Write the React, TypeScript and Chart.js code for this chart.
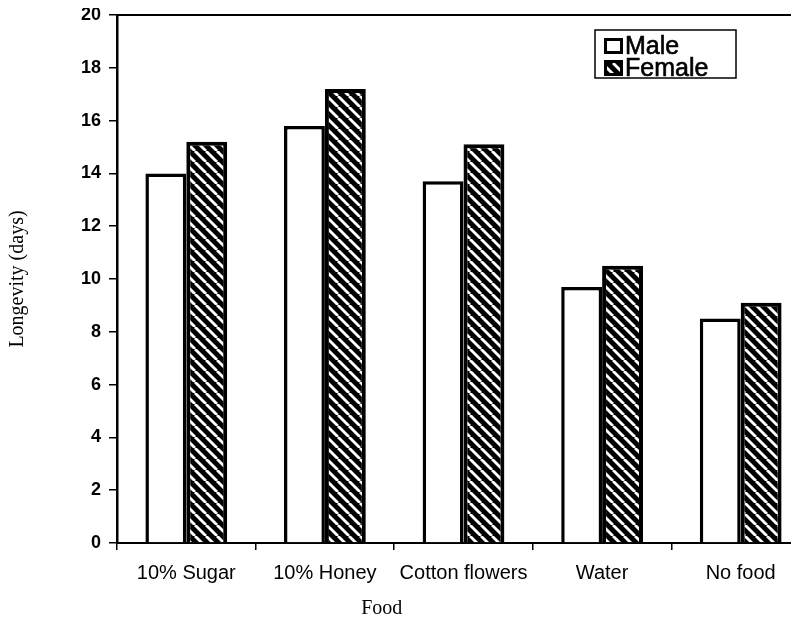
import React, { useEffect, useRef } from "react";
import { Chart, registerables } from "chart.js";

Chart.register(...registerables);

const categories = ["10% Sugar", "10% Honey", "Cotton flowers", "Water", "No food"];
const maleValues = [14.0, 15.8, 13.7, 9.7, 8.5];
const femaleValues = [15.2, 17.2, 15.1, 10.5, 9.1];
const seriesLabels = ["Male", "Female"];
const yTitle = "Longevity (days)";
const xTitle = "Food";

function makeHatch(): CanvasPattern | string {
  const n = 11;
  const c = document.createElement("canvas");
  c.width = n;
  c.height = n;
  const g = c.getContext("2d");
  if (!g) return "#000";
  g.fillStyle = "#000";
  g.fillRect(0, 0, n, n);
  g.strokeStyle = "#fff";
  g.lineWidth = 2.8;
  for (const off of [-n, 0, n]) {
    g.beginPath();
    g.moveTo(off, 0);
    g.lineTo(off + n, n);
    g.stroke();
  }
  const p = g.createPattern(c, "repeat");
  return p || "#000";
}

export default function App() {
  const ref = useRef<HTMLCanvasElement | null>(null);

  useEffect(() => {
    if (!ref.current) return;
    const hatch = makeHatch();

    const frame = {
      id: "frameAndExtras",
      afterDraw(chart: any) {
        const { ctx, chartArea } = chart;
        ctx.save();
        // top border
        ctx.strokeStyle = "#000";
        ctx.lineWidth = 2;
        ctx.beginPath();
        ctx.moveTo(chartArea.left, chartArea.top);
        ctx.lineTo(chartArea.right, chartArea.top);
        ctx.stroke();

        // x-axis title
        const xs = chart.scales.x;
        ctx.fillStyle = "#000";
        ctx.font = "20px 'Liberation Serif', 'Times New Roman', serif";
        ctx.textAlign = "center";
        ctx.textBaseline = "middle";
        ctx.fillText(xTitle, xs.getPixelForDecimal(0.382), 601);

        // legend
        const bx = chartArea.left + 478;
        const by = chartArea.top + 15;
        const bw = 141;
        const bh = 48;
        ctx.fillStyle = "#fff";
        ctx.fillRect(bx, by, bw, bh);
        ctx.lineWidth = 1.5;
        ctx.strokeStyle = "#000";
        ctx.strokeRect(bx, by, bw, bh);
        const rows = [by + 16, by + 38];
        chart.data.datasets.forEach((ds: any, i: number) => {
          const cy = rows[i];
          const mx = bx + 9;
          ctx.fillStyle = i === 0 ? "#fff" : hatch;
          ctx.fillRect(mx, cy - 8, 19, 16);
          ctx.lineWidth = 3;
          ctx.strokeStyle = "#000";
          ctx.strokeRect(mx + 1.5, cy - 6.5, 16, 13);
          ctx.fillStyle = "#000";
          ctx.font = "25px 'Liberation Sans', Arial, sans-serif";
          ctx.textAlign = "left";
          ctx.textBaseline = "middle";
          ctx.fillText(ds.label, mx + 21, cy + 1);
          ctx.lineWidth = 0.6;
          ctx.strokeText(ds.label, mx + 21, cy + 1);
        });
        ctx.restore();
      },
    };

    const chart = new Chart(ref.current, {
      type: "bar",
      data: {
        labels: categories,
        datasets: [
          {
            label: seriesLabels[0],
            data: maleValues,
            backgroundColor: "#fff",
            borderColor: "#000",
            borderWidth: 3.5,
            barPercentage: 1,
            categoryPercentage: 0.59,
          },
          {
            label: seriesLabels[1],
            data: femaleValues,
            backgroundColor: hatch as any,
            borderColor: "#000",
            borderWidth: 4,
            barPercentage: 1,
            categoryPercentage: 0.59,
          },
        ],
      },
      options: {
        animation: false,
        responsive: false,
        maintainAspectRatio: false,
        layout: { padding: { top: 7, right: 8, left: 0, bottom: 0 } },
        plugins: {
          legend: { display: false },
          tooltip: { enabled: false },
          title: { display: false },
        },
        scales: {
          x: {
            offset: true,
            grid: {
              display: true,
              drawOnChartArea: false,
              drawTicks: true,
              tickLength: 7,
              color: "#000",
              lineWidth: 1.5,
              offset: true,
            },
            border: { display: true, color: "#000", width: 2 },
            ticks: {
              color: "#000",
              font: { family: "'Liberation Sans', Arial, sans-serif", size: 20 },
              padding: 11,
              maxRotation: 0,
              autoSkip: false,
            },
            afterFit: (s: any) => {
              s.height = 77;
              s.paddingLeft = 0;
              s.paddingRight = 0;
            },
          },
          y: {
            min: 0,
            max: 20,
            grid: {
              display: true,
              drawOnChartArea: false,
              drawTicks: true,
              tickLength: 8,
              color: "#000",
              lineWidth: 1.5,
            },
            border: { display: true, color: "#000", width: 2.5 },
            ticks: {
              stepSize: 2,
              color: "#000",
              padding: 8,
              font: { family: "'Liberation Sans', Arial, sans-serif", size: 18, weight: "bold" },
            },
            title: {
              display: true,
              text: yTitle,
              color: "#000",
              padding: 0,
              font: { family: "'Liberation Serif', 'Times New Roman', serif", size: 20, lineHeight: 1 },
            },
            afterFit: (s: any) => {
              s.width = 109;
              s.paddingTop = 0;
              s.paddingBottom = 0;
            },
          },
        },
      },
      plugins: [frame],
    });

    return () => chart.destroy();
  }, []);

  return (
    <div style={{ position: "relative", width: 791, height: 612, overflow: "hidden" }}>
      <canvas ref={ref} width={810} height={612} style={{ display: "block", width: 810, height: 612 }} />
    </div>
  );
}
